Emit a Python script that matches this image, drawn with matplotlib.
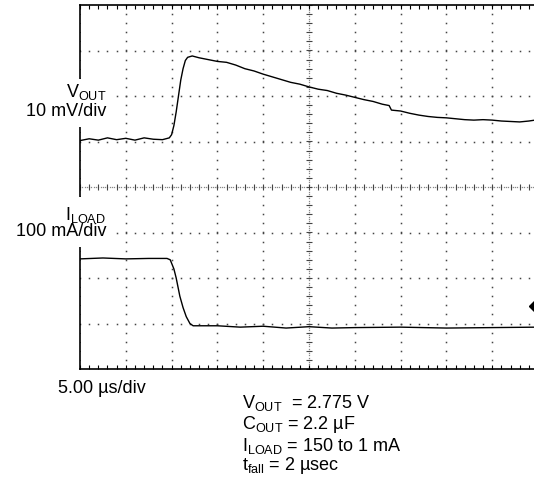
import matplotlib
matplotlib.use("Agg")
import matplotlib.pyplot as plt
from matplotlib.patches import Rectangle
import numpy as np

plt.rcParams["font.family"] = ["Liberation Sans", "DejaVu Sans"]
plt.rcParams["mathtext.fontset"] = "custom"
plt.rcParams["mathtext.rm"] = "Liberation Sans"
plt.rcParams["mathtext.it"] = "Liberation Sans:italic"

# scope traces, time in divisions, amplitude in divisions (0 = screen centre)
vout_t = [0.0, 0.2, 0.4, 0.6, 0.8, 1.0, 1.2, 1.4, 1.6, 1.8, 1.95, 2.0, 2.05, 2.1,
          2.15, 2.2, 2.25, 2.3, 2.35, 2.45, 2.6, 2.8, 3.0, 3.2, 3.4, 3.6, 3.8, 4.0,
          4.2, 4.4, 4.6, 4.8, 5.0, 5.2, 5.4, 5.6, 5.8, 6.0, 6.2, 6.4, 6.6, 6.75,
          6.8, 7.0, 7.2, 7.4, 7.6, 7.8, 8.0, 8.2, 8.4, 8.6, 8.8, 9.0, 9.2, 9.4,
          9.6, 9.8, 10.0]
vout_v = [1.02, 1.06, 1.03, 1.08, 1.04, 1.07, 1.03, 1.08, 1.05, 1.04, 1.08, 1.15,
          1.35, 1.65, 2.0, 2.35, 2.6, 2.78, 2.85, 2.88, 2.84, 2.80, 2.76, 2.74, 2.68,
          2.60, 2.55, 2.48, 2.42, 2.36, 2.30, 2.26, 2.20, 2.15, 2.12, 2.06, 2.02,
          1.97, 1.92, 1.88, 1.82, 1.79, 1.69, 1.67, 1.62, 1.58, 1.55, 1.53, 1.52,
          1.50, 1.48, 1.47, 1.48, 1.47, 1.45, 1.44, 1.43, 1.45, 1.48]

iload_t = [0.0, 0.5, 1.0, 1.5, 1.9, 1.97, 2.05, 2.1, 2.18, 2.25, 2.32, 2.4, 2.47,
           3.0, 3.5, 4.0, 4.5, 5.0, 5.5, 6.0, 7.0, 8.0, 9.0, 10.0]
iload_v = [-1.58, -1.56, -1.58, -1.57, -1.57, -1.60, -1.80, -2.0, -2.40, -2.65,
           -2.85, -3.0, -3.05, -3.05, -3.08, -3.06, -3.1, -3.07, -3.1, -3.09,
           -3.08, -3.1, -3.09, -3.08]

gnd_marker = -2.62

W, H = 534, 481
fig = plt.figure(figsize=(W / 100, H / 100), dpi=100)
x0, x1, y0, y1 = 80, 538, 6, 370
ax = fig.add_axes([x0 / W, 1 - y1 / H, (x1 - x0) / W, (y1 - y0) / H])
ax.set_xlim(0, 10)
ax.set_ylim(-4, 4)
ax.spines["right"].set_visible(False)
for s in ["top", "left", "bottom"]:
    ax.spines[s].set_linewidth(1.2)
ax.set_xticks([])
ax.set_yticks([])

gc = "#444444"
fine = np.arange(0, 10.001, 0.2)
finey = np.arange(-4, 4.001, 0.2)
for gx in range(1, 10):
    if gx == 5:
        continue
    ax.plot(np.full_like(finey, gx), finey, ls="none", marker="s", ms=1.1, color=gc, mew=0)
for gy in [-3, -2, -1, 1, 2, 3]:
    ax.plot(fine, np.full_like(fine, gy), ls="none", marker="s", ms=1.1, color=gc, mew=0)
# centre lines with denser dots and cross ticks
ax.plot(np.arange(0, 10.001, 0.05), np.zeros(201), ls="none", marker="s", ms=0.9, color="#888888", mew=0)
ax.plot(np.full(161, 5.0), np.arange(-4, 4.001, 0.05), ls="none", marker="s", ms=0.9, color="#888888", mew=0)
ax.plot(fine, np.zeros_like(fine), ls="none", marker="|", ms=4, color=gc, mew=0.8)
ax.plot(np.full_like(finey, 5.0), finey, ls="none", marker="_", ms=4, color=gc, mew=0.8)
# border ticks
ax.plot(fine, np.full_like(fine, 4.0), ls="none", marker=3, ms=3, color="black", mew=0.8)
ax.plot(fine, np.full_like(fine, -4.0), ls="none", marker=2, ms=3, color="black", mew=0.8)
ax.plot(np.zeros_like(finey), finey, ls="none", marker=0, ms=3, color="black", mew=0.8)

ax.plot(vout_t, vout_v, color="black", lw=1.0)
ax.plot(iload_t, iload_v, color="black", lw=1.0)
ax.plot([9.95], [gnd_marker], marker="D", ms=7, color="black", clip_on=False)

# white areas behind the channel labels (they cut the border and grid)
for top, bot in [(80, 128), (198, 248)]:
    ax.add_patch(Rectangle((14 / W, 1 - bot / H), 96 / W, (bot - top) / H,
                           transform=fig.transFigure, facecolor="white",
                           edgecolor="none", zorder=5, clip_on=False))


def ftext(x, y, s, **kw):
    fig.text(x / W, 1 - y / H, s, fontsize=13, va="center", zorder=3, **kw)


ftext(106, 92, r"V$_\mathrm{OUT}$", ha="right")
ftext(106, 111, "10 mV/div", ha="right")
ftext(106, 215, r"I$_\mathrm{LOAD}$", ha="right")
ftext(106, 232, "100 mA/div", ha="right")
ftext(58, 389, "5.00 µs/div", ha="left")
ftext(242, 403, r"V$_\mathrm{OUT}$  = 2.775 V", ha="left")
ftext(242, 425, r"C$_\mathrm{OUT}$ = 2.2 µF", ha="left")
ftext(242, 446, r"I$_\mathrm{LOAD}$ = 150 to 1 mA", ha="left")
ftext(242, 466, r"t$_\mathrm{fall}$ = 2 µsec", ha="left")

fig.savefig("out.png", dpi=100, facecolor="white")
